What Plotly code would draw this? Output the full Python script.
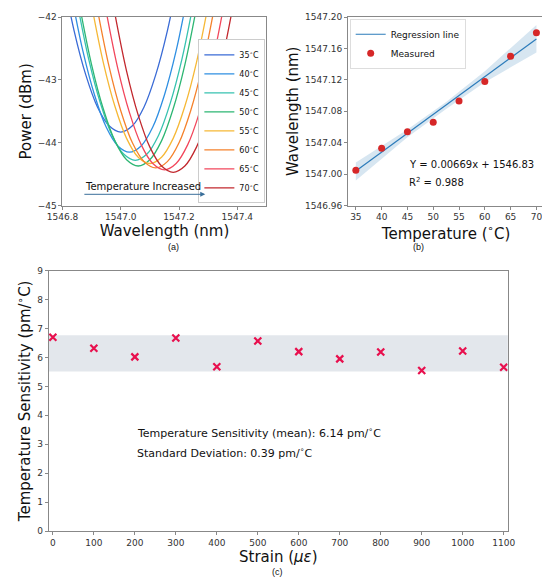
import plotly.graph_objects as go

# (a) spectra: wavelength / power samples for each temperature
temps = ["35", "40", "45", "50", "55", "60", "65", "70"]
colors = ["#3a6bd6", "#2f8fe2", "#37c2b0", "#2db673", "#f6b836", "#f5822c", "#f2475c", "#c2282e"]
wl = {
    "35": [1546.80, 1546.84, 1546.88, 1546.92, 1546.96, 1547.00, 1547.04, 1547.08, 1547.12, 1547.16, 1547.20],
    "40": [1546.83, 1546.87, 1546.91, 1546.95, 1546.99, 1547.03, 1547.07, 1547.11, 1547.15, 1547.19, 1547.23],
    "45": [1546.85, 1546.89, 1546.93, 1546.97, 1547.01, 1547.05, 1547.09, 1547.13, 1547.17, 1547.21, 1547.25],
    "50": [1546.86, 1546.90, 1546.94, 1546.98, 1547.02, 1547.06, 1547.10, 1547.14, 1547.18, 1547.22, 1547.26],
    "55": [1546.90, 1546.94, 1546.98, 1547.02, 1547.06, 1547.10, 1547.14, 1547.18, 1547.22, 1547.26, 1547.30],
    "60": [1546.92, 1546.96, 1547.00, 1547.04, 1547.08, 1547.12, 1547.16, 1547.20, 1547.24, 1547.28, 1547.32],
    "65": [1546.95, 1546.99, 1547.03, 1547.07, 1547.11, 1547.15, 1547.19, 1547.23, 1547.27, 1547.31, 1547.35],
    "70": [1546.98, 1547.02, 1547.06, 1547.10, 1547.14, 1547.18, 1547.22, 1547.26, 1547.30, 1547.34, 1547.38],
}
pw = {
    "35": [-41.31, -42.22, -42.92, -43.43, -43.73, -43.83, -43.73, -43.43, -42.92, -42.22, -41.31],
    "40": [-41.63, -42.54, -43.24, -43.75, -44.05, -44.15, -44.05, -43.75, -43.24, -42.54, -41.63],
    "45": [-41.76, -42.67, -43.37, -43.88, -44.18, -44.28, -44.18, -43.88, -43.37, -42.67, -41.76],
    "50": [-41.85, -42.76, -43.46, -43.97, -44.27, -44.37, -44.27, -43.97, -43.46, -42.76, -41.85],
    "55": [-41.81, -42.72, -43.42, -43.93, -44.23, -44.33, -44.23, -43.93, -43.42, -42.72, -41.81],
    "60": [-41.88, -42.79, -43.49, -44.00, -44.30, -44.40, -44.30, -44.00, -43.49, -42.79, -41.88],
    "65": [-41.91, -42.82, -43.52, -44.03, -44.33, -44.43, -44.33, -44.03, -43.52, -42.82, -41.91],
    "70": [-41.95, -42.86, -43.56, -44.07, -44.37, -44.47, -44.37, -44.07, -43.56, -42.86, -41.95],
}

# (b) regression
temp_c = [35, 40, 45, 50, 55, 60, 65, 70]
peak_wl = [1547.005, 1547.033, 1547.054, 1547.066, 1547.093, 1547.118, 1547.150, 1547.180]
fit_x = [35, 70]
fit_y = [1547.004, 1547.172]
band_x = [35, 45, 52.5, 60, 70]
band_lo = [1546.992, 1547.047, 1547.083, 1547.117, 1547.155]
band_hi = [1547.015, 1547.057, 1547.092, 1547.131, 1547.190]

# (c) sensitivity vs strain
strain = [0, 100, 200, 300, 400, 500, 600, 700, 800, 900, 1000, 1100]
sens = [6.70, 6.32, 6.02, 6.67, 5.68, 6.57, 6.20, 5.95, 6.19, 5.55, 6.22, 5.66]
sens_lo, sens_hi = 5.51, 6.77

fig = go.Figure()
for t, c in zip(temps, colors):
    fig.add_trace(go.Scatter(x=wl[t], y=pw[t], mode="lines", line=dict(color=c, width=1.3, shape="spline"),
                             name=f"{t}<sup>∘</sup>C", xaxis="x", yaxis="y", legend="legend"))

fig.add_trace(go.Scatter(x=band_x, y=band_hi, mode="lines", line=dict(width=0), showlegend=False,
                         xaxis="x2", yaxis="y2", hoverinfo="skip"))
fig.add_trace(go.Scatter(x=band_x, y=band_lo, mode="lines", line=dict(width=0), fill="tonexty",
                         fillcolor="rgba(31,119,180,0.18)", showlegend=False, xaxis="x2", yaxis="y2"))
fig.add_trace(go.Scatter(x=fit_x, y=fit_y, mode="lines", line=dict(color="#2b7bba", width=1.2),
                         name="Regression line", xaxis="x2", yaxis="y2", legend="legend2"))
fig.add_trace(go.Scatter(x=temp_c, y=peak_wl, mode="markers", marker=dict(color="#d62728", size=7),
                         name="Measured", xaxis="x2", yaxis="y2", legend="legend2"))

fig.add_shape(type="rect", xref="x3 domain", yref="y3", x0=0, x1=1, y0=sens_lo, y1=sens_hi,
              fillcolor="#e3e7ec", line_width=0, layer="below")
fig.add_trace(go.Scatter(x=strain, y=sens, mode="markers", showlegend=False, xaxis="x3", yaxis="y3",
                         marker=dict(symbol="x-thin", size=7, line=dict(color="#e8104e", width=2.2))))

tick = dict(size=9, color="#333")
ax = dict(showline=True, mirror=True, linecolor="#888", linewidth=1, ticks="outside", ticklen=3,
          tickcolor="#888", showgrid=False, zeroline=False, tickfont=tick)
title_font = dict(size=15, color="#111")

fig.update_layout(
    width=550, height=585, margin=dict(l=0, r=0, t=0, b=0),
    plot_bgcolor="white", paper_bgcolor="white",
    font=dict(family="DejaVu Sans", color="#111"),
    xaxis=dict(ax, domain=[0.073, 0.46], anchor="y", range=[1546.8, 1547.5], dtick=0.2, tickformat=".1f",
               title=dict(text="Wavelength (nm)", font=title_font, standoff=2)),
    yaxis=dict(ax, domain=[0.665, 0.993], anchor="x", range=[-45, -42], dtick=1,
               title=dict(text="Power (dBm)", font=title_font, standoff=2)),
    xaxis2=dict(ax, domain=[0.615, 0.987], anchor="y2", range=[33.5, 71.5], dtick=5,
                title=dict(text="Temperature (<sup>∘</sup>C)", font=title_font, standoff=2)),
    yaxis2=dict(ax, domain=[0.665, 0.993], anchor="x2", range=[1546.96, 1547.20], dtick=0.04, tickformat=".2f",
                title=dict(text="Wavelength (nm)", font=title_font, standoff=2)),
    xaxis3=dict(ax, domain=[0.047, 0.918], anchor="y3", range=[-10, 1110], dtick=100,
                title=dict(text="Strain (<i>με</i>)", font=title_font, standoff=2)),
    yaxis3=dict(ax, domain=[0.099, 0.552], anchor="x3", range=[0, 9], dtick=1,
                title=dict(text="Temperature Sensitivity (pm/<sup>∘</sup>C)", font=title_font, standoff=2)),
    legend=dict(x=0.458, y=0.669, xanchor="right", yanchor="bottom", font=dict(size=8), bgcolor="white",
                bordercolor="#ccc", borderwidth=1, tracegroupgap=0, itemwidth=30, traceorder="normal"),
    legend2=dict(x=0.618, y=0.99, xanchor="left", yanchor="top", font=dict(size=9), bgcolor="white",
                 bordercolor="#ddd", borderwidth=1, itemwidth=30, traceorder="normal"),
    annotations=[
        dict(x=1547.29, y=-44.82, ax=1546.87, ay=-44.82, xref="x", yref="y", axref="x", ayref="y",
             text="", showarrow=True, arrowhead=2, arrowsize=1, arrowwidth=1, arrowcolor="#3a6f9a"),
        dict(x=1546.87, y=-44.82, xref="x", yref="y", text="Temperature Increased", showarrow=False,
             xanchor="left", yanchor="bottom", font=dict(size=10)),
        dict(x=45, y=1547.012, xref="x2", yref="y2", text="Y = 0.00669x + 1546.83", showarrow=False,
             xanchor="left", font=dict(size=10)),
        dict(x=45, y=1546.99, xref="x2", yref="y2", text="R<sup>2</sup> = 0.988", showarrow=False,
             xanchor="left", font=dict(size=10)),
        dict(x=200, y=3.4, xref="x3", yref="y3", text="Temperature Sensitivity (mean): 6.14 pm/<sup>∘</sup>C",
             showarrow=False, xanchor="left", font=dict(size=11)),
        dict(x=200, y=2.7, xref="x3", yref="y3", text="Standard Deviation: 0.39 pm/<sup>∘</sup>C",
             showarrow=False, xanchor="left", font=dict(size=11)),
        dict(x=148 / 550, y=1 - 238 / 585, xref="paper", yref="paper", text="(a)", showarrow=False,
             font=dict(size=9, family="Liberation Sans")),
        dict(x=420 / 550, y=1 - 238 / 585, xref="paper", yref="paper", text="(b)", showarrow=False,
             font=dict(size=9, family="Liberation Sans")),
        dict(x=265 / 550, y=1 - 576 / 585, xref="paper", yref="paper", text="(c)", showarrow=False,
             font=dict(size=9, family="Liberation Sans")),
    ],
)

fig.write_html("out.html")
